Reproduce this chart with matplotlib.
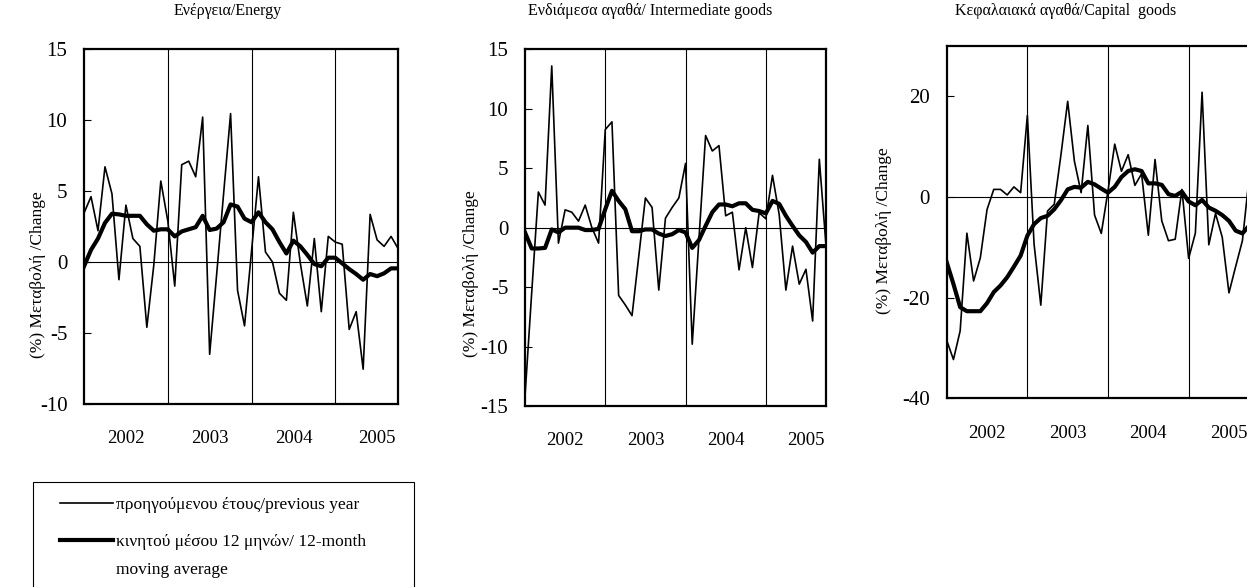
"""
Βιομηχανική παραγωγή: ετήσια μεταβολή και κινητός μέσος 12 μηνών (2002-2005)
"""

import matplotlib.pyplot as plt
from matplotlib.patches import Rectangle
from matplotlib.lines import Line2D

plt.rcParams['font.family'] = ['Liberation Serif', 'DejaVu Serif']
plt.rcParams['axes.unicode_minus'] = False

# months Jan 2002 .. Oct 2005
months = list(range(46))
year_breaks = [12, 24, 36]
year_pos = [6, 18, 30, 42]
year_labels = ['2002', '2003', '2004', '2005']

energy_yoy = [3.45, 4.6, 2.2, 6.7, 4.8, -1.25, 4.0, 1.65, 1.1, -4.6, -0.2, 5.7,
              2.9, -1.7, 6.85, 7.1, 6.0, 10.2, -6.5, -0.9, 4.8, 10.45, -2.0, -4.5,
              0.75, 6.0, 0.7, 0.0, -2.2, -2.7, 3.5, -0.1, -3.1, 1.65, -3.5, 1.8,
              1.4, 1.25, -4.75, -3.5, -7.55, 3.35, 1.55, 1.1, 1.8, 0.95]
energy_ma = [-0.3, 0.85, 1.65, 2.75, 3.4, 3.35, 3.25, 3.25, 3.25, 2.65, 2.2, 2.3,
             2.3, 1.8, 2.15, 2.3, 2.45, 3.25, 2.25, 2.35, 2.8, 4.05, 3.9, 3.05,
             2.8, 3.5, 2.8, 2.3, 1.4, 0.6, 1.5, 1.1, 0.5, -0.15, -0.3, 0.3,
             0.3, -0.1, -0.5, -0.85, -1.25, -0.85, -1.0, -0.8, -0.45, -0.45]

inter_yoy = [-14.2, -5.5, 3.0, 1.9, 13.6, -1.3, 1.5, 1.3, 0.55, 1.9, 0.0, -1.3,
             8.25, 8.9, -5.7, -6.5, -7.4, -2.45, 2.5, 1.7, -5.25, 0.8, 1.7, 2.5,
             5.4, -9.8, -1.0, 7.75, 6.45, 6.9, 1.0, 1.3, -3.55, 0.0, -3.35, 1.25,
             0.75, 4.4, 1.1, -5.25, -1.55, -4.75, -3.5, -7.85, 5.75, -1.5]
inter_ma = [-0.4, -1.75, -1.75, -1.7, -0.15, -0.4, 0.0, 0.0, 0.0, -0.2, -0.2, -0.1,
            1.55, 3.1, 2.25, 1.55, -0.3, -0.3, -0.15, -0.15, -0.5, -0.7, -0.55, -0.2,
            -0.4, -1.7, -1.05, 0.15, 1.3, 1.95, 1.95, 1.8, 2.05, 2.05, 1.5, 1.4,
            1.2, 2.25, 2.0, 1.0, 0.15, -0.65, -1.2, -2.1, -1.55, -1.55]

capital_yoy = [-28.5, -32.3, -26.6, -7.2, -16.7, -12.1, -2.5, 1.5, 1.5, 0.4, 2.0, 0.85,
               16.2, -9.4, -21.5, -2.8, -1.45, 8.4, 19.0, 7.1, 0.85, 14.2, -3.6, -7.25,
               1.2, 10.5, 5.1, 8.4, 2.3, 4.6, -7.6, 7.45, -4.75, -8.7, -8.4, 1.5,
               -12.2, -7.2, 20.8, -9.5, -3.3, -8.0, -19.05, -13.8, -8.7, 3.8]
capital_ma = [-13.0, -17.3, -21.9, -22.7, -22.7, -22.7, -21.1, -18.9, -17.6, -15.95, -13.85, -11.65,
              -7.7, -5.4, -4.2, -3.75, -2.45, -0.65, 1.5, 2.0, 1.85, 3.0, 2.5, 1.65,
              0.85, 2.0, 3.95, 5.15, 5.5, 5.15, 2.7, 2.7, 2.4, 0.55, 0.2, 1.05,
              -0.9, -1.65, -0.6, -2.1, -2.75, -3.6, -4.75, -6.7, -7.25, -5.7]

titles = ['Ενέργεια/Energy', 'Ενδιάμεσα αγαθά/ Intermediate goods',
          'Κεφαλαιακά αγαθά/Capital  goods']
ylabel = '(%) Μεταβολή /Change'
legend_labels = ['προηγούμενου έτους/previous year',
                 'κινητού μέσου 12 μηνών/ 12-month\nmoving average']

fig = plt.figure(figsize=(12.47, 5.87), dpi=100)

panels = [
    dict(rect=[0.0674, 0.3118, 0.2518, 0.6048], yoy=energy_yoy, ma=energy_ma,
         ylim=(-10, 15), yticks=[-10, -5, 0, 5, 10, 15], lab=(-0.121, 0.363), tx=0.1828),
    dict(rect=[0.4210, 0.3083, 0.2414, 0.6077], yoy=inter_yoy, ma=inter_ma,
         ylim=(-15, 15), yticks=[-15, -10, -5, 0, 5, 10, 15], lab=(-0.153, 0.37), tx=0.5213),
    dict(rect=[0.7592, 0.3215, 0.2425, 0.6002], yoy=capital_yoy, ma=capital_ma,
         ylim=(-40, 30), yticks=[-40, -20, 0, 20], lab=(-0.18, 0.477), tx=0.8549),
]

for p, title in zip(panels, titles):
    ax = fig.add_axes(p['rect'])
    ax.plot(months, p['yoy'], color='black', lw=1.2, zorder=3)
    ax.plot(months, p['ma'], color='black', lw=3.0, zorder=4, solid_joinstyle='round')
    for b in year_breaks:
        ax.axvline(b, color='black', lw=0.8, zorder=1)
    ax.axhline(0, color='black', lw=0.8, zorder=1)

    ax.set_xlim(0, 45)
    ax.set_ylim(*p['ylim'])
    ax.set_yticks(p['yticks'])
    ax.set_xticks(year_pos)
    ax.set_xticklabels(year_labels)
    ax.tick_params(axis='y', direction='in', length=5, width=0.8, labelsize=15, pad=12)
    ax.tick_params(axis='x', length=0, labelsize=13.5, pad=19)
    for s in ax.spines.values():
        s.set_linewidth(1.6)

    ax.set_ylabel(ylabel, fontsize=12.5)
    ax.yaxis.set_label_coords(*p['lab'])
    fig.text(p['tx'], 0.981, title, ha='center', va='center', fontsize=11.5)

# legend box (bottom runs off the page)
W, H = 1247, 587
fig.patches.append(Rectangle((33 / W, -0.05), 381 / W, 0.05 + 1 - 482 / H,
                             transform=fig.transFigure, fill=False,
                             edgecolor='black', lw=0.8))
for lw, ty, label in zip([1.2, 3.0], [503, 540], legend_labels):
    fig.lines.append(Line2D([60 / W, 113 / W], [1 - ty / H, 1 - ty / H],
                            transform=fig.transFigure, color='black', lw=lw))
    fig.text(116 / W, 1 - (ty - 6) / H, label, ha='left', va='top',
             fontsize=12.5, linespacing=2.0)

plt.savefig('out.png', dpi=100)
